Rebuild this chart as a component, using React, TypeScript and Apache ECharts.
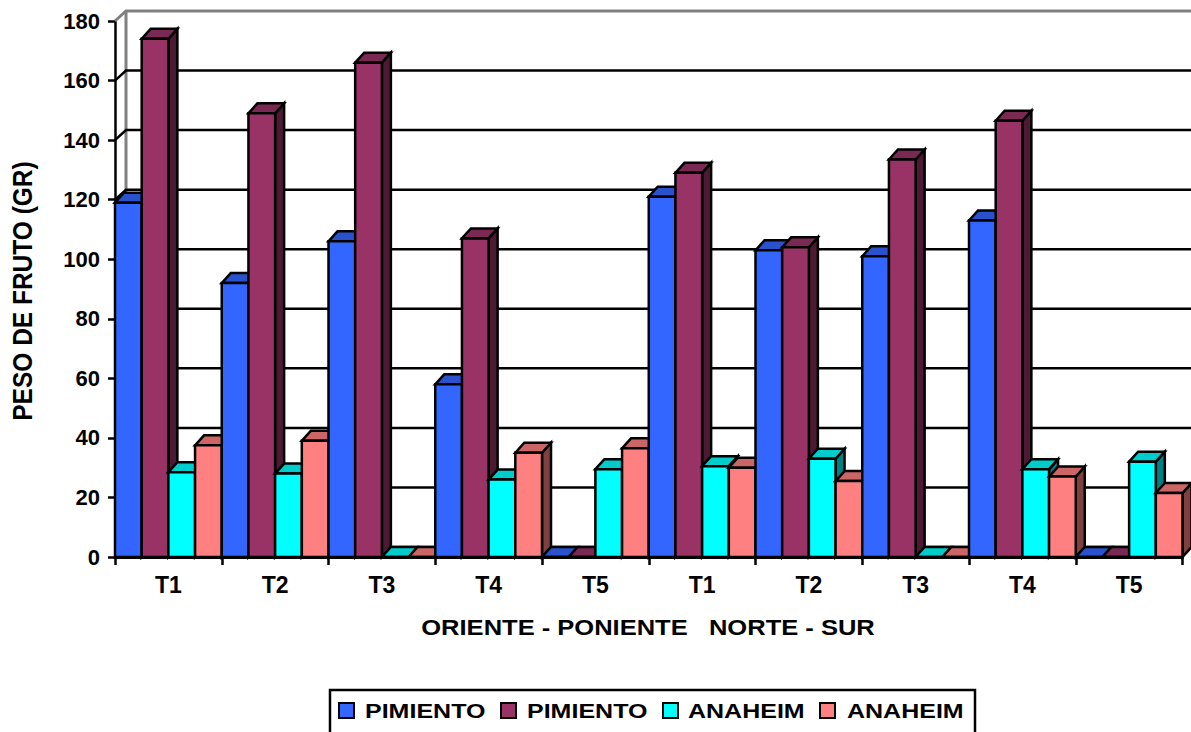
import React, { useEffect, useRef } from "react";
import * as echarts from "echarts";

// Fruit weight per treatment, two orientations (ORIENTE-PONIENTE, NORTE-SUR)
const categories = ["T1", "T2", "T3", "T4", "T5", "T1", "T2", "T3", "T4", "T5"];
const seriesNames = ["PIMIENTO", "PIMIENTO", "ANAHEIM", "ANAHEIM"];
const pimientoA = [119, 92, 106, 58, 0, 121, 103, 101, 113, 0];
const pimientoB = [174, 149, 166, 107, 0, 129, 104, 133.5, 146.5, 0];
const anaheimA = [28.5, 28, 0, 26, 29.5, 30.5, 33, 0, 29.5, 32];
const anaheimB = [37.5, 39, 0, 35, 36.5, 30, 25.5, 0, 27, 21.5];
const yTicks = [0, 20, 40, 60, 80, 100, 120, 140, 160, 180];

const seriesValues = [pimientoA, pimientoB, anaheimA, anaheimB];
const faceColors = ["#3366ff", "#993366", "#00ffff", "#ff8080"];
const topColors = ["#2952cc", "#7a2952", "#00cccc", "#cc6666"];
const sideColors = ["#1a3380", "#4d1a33", "#008080", "#804040"];

const FONT = "'Liberation Sans', Arial, sans-serif";
const BAR_DEPTH: [number, number] = [9, -10];
const WALL_DEPTH: [number, number] = [11, -10];
const Y_MAX = 180;

function barRenderer(s: number) {
  return (params: any, api: any) => {
    const ci = api.value(0);
    const v = api.value(1);
    const top = api.coord([ci, v]);
    const base = api.coord([ci, 0]);
    const band = api.size([1, 0])[0];
    const w = band / 4;
    const x = base[0] - band / 2 + s * w;
    const yT = top[1];
    const yB = base[1];
    const [dx, dy] = BAR_DEPTH;
    const order = ci * 10 + s * 2;
    const edge = { stroke: "#000", lineWidth: 2.5, lineJoin: "miter" };
    return {
      type: "group",
      children: [
        {
          type: "polygon",
          z2: order,
          shape: { points: [[x + w, yT], [x + w + dx, yT + dy], [x + w + dx, yB + dy], [x + w, yB]] },
          style: { fill: sideColors[s], ...edge },
        },
        {
          type: "polygon",
          z2: order,
          shape: { points: [[x, yT], [x + dx, yT + dy], [x + w + dx, yT + dy], [x + w, yT]] },
          style: { fill: topColors[s], ...edge },
        },
        {
          type: "rect",
          z2: order + 1,
          shape: { x, y: yT, width: w, height: yB - yT },
          style: { fill: faceColors[s], ...edge },
        },
      ],
    };
  };
}

// Back wall with its gridlines, drawn one step behind the bars
function wallRenderer(params: any, api: any) {
  const cs = params.coordSys;
  const v = api.value(1);
  const y = api.coord([0, v])[1];
  const x0 = cs.x;
  const x1 = cs.x + cs.width;
  const [dx, dy] = WALL_DEPTH;
  const isTop = v === Y_MAX;
  const children: any[] = [
    {
      type: "polyline",
      z2: 2,
      shape: { points: [[x0, y], [x0 + dx, y + dy], [x1 + dx, y + dy]] },
      style: { stroke: isTop ? "#808080" : "#000", lineWidth: isTop ? 3 : 2.5, fill: null },
    },
  ];
  if (v === 0) {
    const yTop = api.coord([0, Y_MAX])[1];
    children.push({
      type: "line",
      z2: 1,
      shape: { x1: x0 + dx, y1: yTop + dy, x2: x0 + dx, y2: y + dy },
      style: { stroke: "#808080", lineWidth: 3 },
    });
  }
  return { type: "group", children };
}

// Legend drawn as boxed swatches with widened bold labels
const legendIconX = [339, 501, 663, 820];
const legendTextX = [365, 527, 688, 847];

function legendGraphics() {
  const items: any[] = [
    {
      type: "rect",
      shape: { x: 330, y: 690, width: 645, height: 60 },
      style: { fill: "#fff", stroke: "#000", lineWidth: 2.5 },
      z: 10,
    },
  ];
  seriesNames.forEach((name, i) => {
    items.push({
      type: "rect",
      shape: { x: legendIconX[i], y: 703, width: 15, height: 15 },
      style: { fill: faceColors[i], stroke: "#000", lineWidth: 2 },
      z: 11,
    });
    items.push({
      type: "text",
      x: legendTextX[i],
      y: 711,
      scaleX: 1.22,
      style: {
        text: name,
        font: `bold 20.5px ${FONT}`,
        fill: "#000",
        textAlign: "left",
        textVerticalAlign: "middle",
      },
      z: 11,
    });
  });
  return items;
}

export default function App() {
  const ref = useRef<HTMLDivElement>(null);

  useEffect(() => {
    if (!ref.current) return;
    const chart = echarts.init(ref.current, null, { renderer: "svg" });

    const barSeries = seriesValues.map((vals, s) => ({
      type: "custom",
      name: seriesNames[s],
      z: 2,
      renderItem: barRenderer(s),
      encode: { x: 0, y: 1 },
      data: vals.map((v, i) => [i, v]),
    }));

    chart.setOption({
      animation: false,
      backgroundColor: "#fff",
      grid: { left: 115, top: 21, width: 1067.5, height: 536, containLabel: false },
      xAxis: {
        type: "category",
        data: categories,
        boundaryGap: true,
        axisLine: { show: true, lineStyle: { color: "#000", width: 3 } },
        axisTick: { show: true, length: 8, lineStyle: { color: "#000", width: 2.5 } },
        axisLabel: {
          color: "#000",
          fontFamily: FONT,
          fontWeight: "bold",
          fontSize: 23,
          margin: 16,
        },
        splitLine: { show: false },
      },
      yAxis: {
        type: "value",
        min: 0,
        max: Y_MAX,
        interval: 20,
        axisLine: { show: true, lineStyle: { color: "#000", width: 2.5 } },
        axisTick: { show: true, length: 7, lineStyle: { color: "#000", width: 2.5 } },
        axisLabel: {
          color: "#000",
          fontFamily: FONT,
          fontWeight: "bold",
          fontSize: 22,
          margin: 15,
        },
        splitLine: { show: false },
      },
      series: [
        {
          type: "custom",
          name: "wall",
          z: 1,
          silent: true,
          renderItem: wallRenderer,
          encode: { x: 0, y: 1 },
          data: yTicks.map((v) => [0, v]),
        },
        ...barSeries,
      ],
      graphic: [
        {
          type: "text",
          x: 648,
          y: 627,
          scaleX: 1.16,
          style: {
            text: "ORIENTE - PONIENTE   NORTE - SUR",
            font: `bold 22px ${FONT}`,
            fill: "#000",
            textAlign: "center",
            textVerticalAlign: "middle",
          },
        },
        {
          type: "text",
          x: 23,
          y: 291,
          rotation: Math.PI / 2,
          scaleY: 1.12,
          style: {
            text: "PESO DE FRUTO (GR)",
            font: `bold 24.5px ${FONT}`,
            fill: "#000",
            textAlign: "center",
            textVerticalAlign: "middle",
          },
        },
        ...legendGraphics(),
      ],
    });

    return () => chart.dispose();
  }, []);

  return (
    <div
      ref={ref}
      style={{ position: "absolute", left: 0, top: 0, width: 1191, height: 732 }}
    />
  );
}
